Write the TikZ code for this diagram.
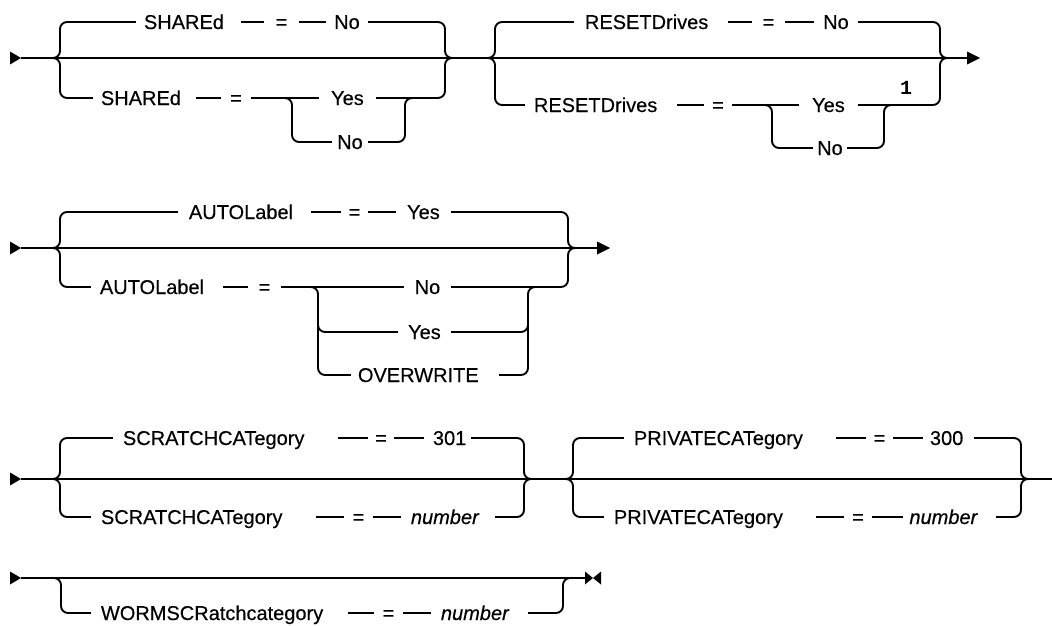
\documentclass[tikz,border=0pt]{standalone}
\usepackage{fontspec}
\setmainfont{Liberation Sans}[FakeBold=0.35]
\newfontfamily\fnfont{Liberation Mono}
\begin{document}
\begin{tikzpicture}[x=1pt,y=-1pt, line width=1.9pt,
  rc/.style={rounded corners=7pt},
  tok/.style={fill=white, inner xsep=0pt, inner ysep=1.5pt, text height=14pt, text depth=0pt, anchor=west, font=\fontsize{20}{24}\selectfont},
  fnote/.style={anchor=base, inner sep=0pt, font={\fontsize{20}{24}\fnfont\bfseries}}]
\useasboundingbox (0,0) rectangle (1052,626);

% ---------------- Row 1 ----------------
\coordinate (r1s) at (21,58);
\coordinate (r1e) at (968,58);
\fill (10,51.5) -- (r1s) -- (10,64.5) -- cycle;
\draw (r1s) -- (r1e);
\fill (967,51.5) -- (980,58) -- (967,64.5) -- cycle;
% block A
\draw[rc] (53,58) -| (60,22) -- (445,22) |- (452,58);
\draw[rc] (53,58) -| (60,98) -- (445,98) |- (452,58);
\draw[rc] (285,98) -| (292,142) -- (405,142) |- (412,98);
\node[tok] (a1k) at (135,22) {\makebox[105pt][l]{\hspace{8pt}SHAREd}};
\node[tok] (a1e) at (263,22) {\makebox[35pt]{=}};
\node[tok] (a1v) at (325,22) {\makebox[42pt]{No}};
\node[tok] (a2k) at (92,98) {\makebox[103pt][l]{\hspace{8pt}SHAREd}};
\node[tok] (a2e) at (220,98) {\makebox[30pt]{=}};
\node[tok] (a2v) at (318,98) {\makebox[57pt]{Yes}};
\node[tok] (a3v) at (331,142) {\makebox[36pt]{No}};
% block B
\draw[rc] (488,58) -| (495,22) -- (940,22) |- (947,58);
\draw[rc] (488,58) -| (495,105) -- (940,105) |- (947,58);
\draw[rc] (765,105) -| (772,148) -- (884,148) |- (891,105);
\node[tok] (b1k) at (573,22) {\makebox[154pt][l]{\hspace{11pt}RESETDrives}};
\node[tok] (b1e) at (751,22) {\makebox[33pt]{=}};
\node[tok] (b1v) at (813,22) {\makebox[44pt]{No}};
\node[tok] (b2k) at (524,105) {\makebox[152pt][l]{\hspace{9pt}RESETDrives}};
\node[tok] (b2e) at (703,105) {\makebox[28pt]{=}};
\node[tok] (b2v) at (798,105) {\makebox[59pt]{Yes}};
\node[tok] (b3v) at (812,148) {\makebox[34pt]{No}};
\node[fnote] (fn1) at (906,95) {1};

% ---------------- Row 2 ----------------
\coordinate (r2s) at (21,248);
\coordinate (r2e) at (597,248);
\fill (10,241.5) -- (r2s) -- (10,254.5) -- cycle;
\draw (r2s) -- (r2e);
\fill (597,241.5) -- (610,248) -- (597,254.5) -- cycle;
\draw[rc] (53,248) -| (60,212) -- (568,212) |- (575,248);
\draw[rc] (53,248) -| (60,287) -- (568,287) |- (575,248);
\draw[rc] (311,287) -| (318,375) -- (528,375) |- (535,287);
\draw[rc] (318,318) |- (340,332) -- (510,332) -| (528,318);
\node[tok] (c1k) at (177,212) {\makebox[133pt][l]{\hspace{11pt}AUTOLabel}};
\node[tok] (c1e) at (340,212) {\makebox[27pt]{=}};
\node[tok] (c1v) at (395,212) {\makebox[55pt]{Yes}};
\node[tok] (c2k) at (90,287) {\makebox[132pt][l]{\hspace{9pt}AUTOLabel}};
\node[tok] (c2e) at (247,287) {\makebox[33pt]{=}};
\node[tok] (c2v) at (403,287) {\makebox[47pt]{No}};
\node[tok] (c3v) at (397,332) {\makebox[53pt]{Yes}};
\node[tok] (c4v) at (350,375) {\makebox[148pt][l]{\hspace{7pt}OVERWRITE}};

% ---------------- Row 3 ----------------
\coordinate (r3s) at (21,479);
\coordinate (r3e) at (1052,479);
\fill (10,472.5) -- (r3s) -- (10,485.5) -- cycle;
\draw (r3s) -- (r3e);
\draw[rc] (53,479) -| (60,438) -- (524,438) |- (531,479);
\draw[rc] (53,479) -| (60,517) -- (524,517) |- (531,479);
\draw[rc] (566,479) -| (573,438) -- (1021,438) |- (1028,479);
\draw[rc] (566,479) -| (573,517) -- (1021,517) |- (1028,479);
\node[tok] (d1k) at (112,438) {\makebox[225pt][l]{\hspace{10pt}SCRATCHCATegory}};
\node[tok] (d1e) at (367,438) {\makebox[26pt]{=}};
\node[tok] (d1v) at (423,438) {\makebox[47pt][l]{\hspace{9pt}301}};
\node[tok] (d2k) at (90,517) {\makebox[225pt][l]{\hspace{10pt}SCRATCHCATegory}};
\node[tok] (d2e) at (343,517) {\makebox[29pt]{=}};
\node[tok] (d2v) at (400,517) {\makebox[94pt][l]{\hspace{10pt}\itshape number}};
\node[tok] (e1k) at (623,438) {\makebox[212pt][l]{\hspace{10pt}PRIVATECATegory}};
\node[tok] (e1e) at (865,438) {\makebox[27pt]{=}};
\node[tok] (e1v) at (922,438) {\makebox[51pt][l]{\hspace{7pt}300}};
\node[tok] (e2k) at (603,517) {\makebox[212pt][l]{\hspace{10pt}PRIVATECATegory}};
\node[tok] (e2e) at (843,517) {\makebox[28pt]{=}};
\node[tok] (e2v) at (902,517) {\makebox[93pt][l]{\hspace{6.5pt}\itshape number}};

% ---------------- Row 4 ----------------
\coordinate (r4s) at (21,578);
\coordinate (r4e) at (585,578);
\fill (10,571.5) -- (r4s) -- (10,584.5) -- cycle;
\draw (r4s) -- (r4e);
\fill (585,571.5) -- (593,578) -- (585,584.5) -- cycle;
\fill (601,571.5) -- (593,578) -- (601,584.5) -- cycle;
\draw[rc] (54,578) -| (61,613) -- (563,613) |- (570,578);
\node[tok] (f1k) at (90,613) {\makebox[257pt][l]{\hspace{10pt}WORMSCRatchcategory}};
\node[tok] (f1e) at (373,613) {\makebox[29pt]{=}};
\node[tok] (f1v) at (430,613) {\makebox[97pt][l]{\hspace{10pt}\itshape number}};
\end{tikzpicture}
\end{document}
